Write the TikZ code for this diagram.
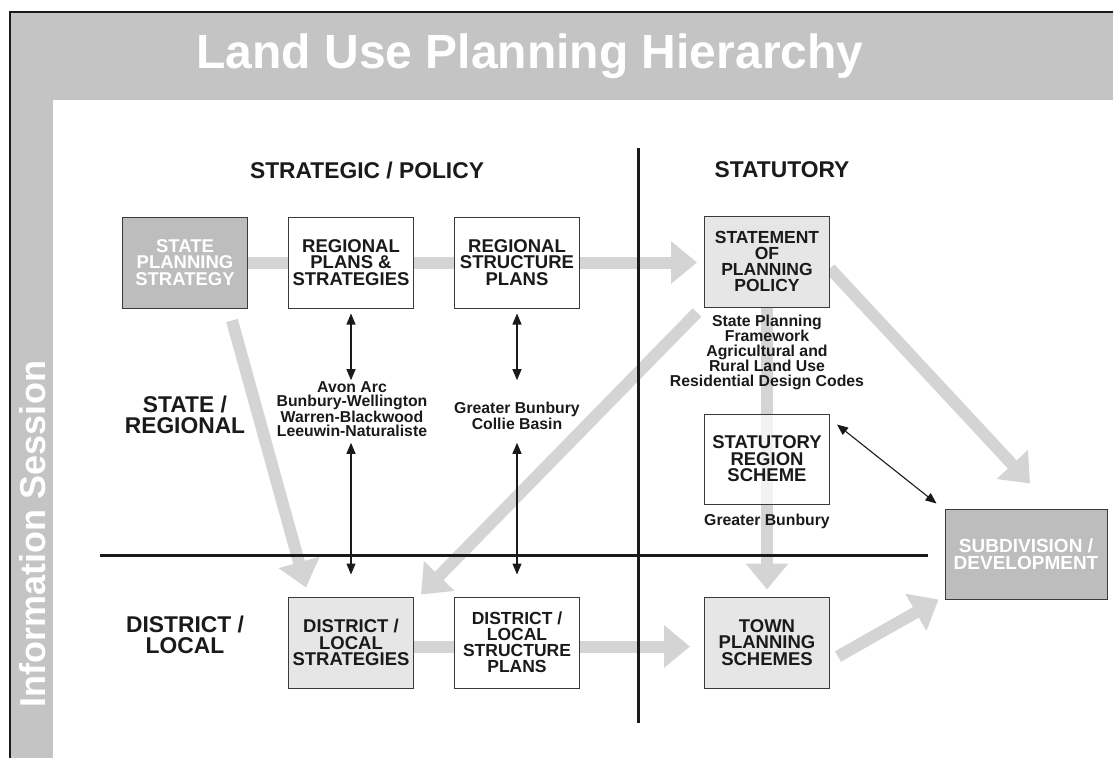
\documentclass[tikz,border=0pt]{standalone}
\usepackage{fontspec}
\setmainfont{Liberation Sans}
\usetikzlibrary{arrows.meta,calc}
\pgfdeclarelayer{bg}
\pgfdeclarelayer{arr}
\pgfsetlayers{bg,arr,main}
\definecolor{bandgray}{HTML}{C4C4C4}
\definecolor{darkfill}{HTML}{BDBDBD}
\definecolor{lightfill}{HTML}{E6E6E6}
\definecolor{arrgray}{HTML}{D4D4D4}
\definecolor{edgecol}{HTML}{3A3A3A}
\definecolor{ink}{HTML}{1A1A1A}
\begin{document}
\begin{tikzpicture}[x=1pt,y=-1pt,
  box/.style={draw=edgecol, line width=1pt, minimum width=125pt, minimum height=91pt, inner sep=0pt, align=center, font=\fontsize{18.5}{16.5}\selectfont\bfseries, text=ink},
  darkbox/.style={box, fill=darkfill, text=white},
  lightbox/.style={box, fill=lightfill},
  whitebox/.style={box, fill=white},
  fourline/.style={font=\fontsize{17.5}{16}\selectfont\bfseries},
  heading/.style={font=\fontsize{22.8}{21}\selectfont\bfseries, text=ink, align=center, inner sep=0pt},
  sublabel/.style={font=\fontsize{15.8}{14.2}\selectfont\bfseries, text=ink, align=center, inner sep=0pt},
  bigarr/.style={draw=arrgray, line width=12pt, -{Triangle[length=26pt,width=41pt]}},
  thinarr/.style={draw=ink, line width=1.1pt, {Triangle[length=11pt,width=9pt]}-{Triangle[length=11pt,width=9pt]}},
  rulestyle/.style={draw=ink, line width=3pt}
]
\useasboundingbox (0,0) rectangle (1113,758);
\begin{pgfonlayer}{bg}
\fill[white] (0,0) rectangle (1113,758);
\fill[bandgray] (10,12) rectangle (1113,100);
\fill[bandgray] (10,100) rectangle (53,758);
\draw[ink, line width=2pt] (10,758) -- (10,12) -- (1113,12);
\end{pgfonlayer}

\node[font=\fontsize{48}{48}\selectfont\bfseries, text=white, anchor=base, inner sep=0pt] (title) at (530,68) {Land Use Planning Hierarchy};
\node[rotate=90, font=\fontsize{36}{36}\selectfont\bfseries, text=white, anchor=base, inner sep=0pt] (info) at (45,534) {Information Session};

\coordinate (vtop) at (638,148);
\coordinate (vbot) at (638,723);
\coordinate (hleft) at (100,555);
\coordinate (hright) at (928,555);
\draw[rulestyle] (vtop) -- (vbot);
\draw[rulestyle] (hleft) -- (hright);

\node[heading] (hstrat) at (367,170) {STRATEGIC / POLICY};
\node[heading] (hstat) at (782,170) {STATUTORY};
\node[heading] (hsr) at (185,415) {STATE /\\REGIONAL};
\node[heading] (hdl) at (185,635) {DISTRICT /\\LOCAL};

\node[darkbox, font=\fontsize{18.5}{16.8}\selectfont\bfseries] (sps) at (185,262.5) {STATE\\PLANNING\\STRATEGY};
\node[whitebox] (rps) at (351,262.5) {REGIONAL\\PLANS \&\\STRATEGIES};
\node[whitebox] (rsp) at (517,262.5) {REGIONAL\\STRUCTURE\\PLANS};
\node[lightbox, fourline] (spp) at (767,261.5) {STATEMENT\\OF\\PLANNING\\POLICY};
\node[whitebox, fill opacity=0.7, text opacity=1, draw opacity=1, minimum height=90pt] (srs) at (767,459) {STATUTORY\\REGION\\SCHEME};
\node[darkbox, minimum width=162pt, minimum height=90pt, font=\fontsize{19}{17.2}\selectfont\bfseries] (sub) at (1026,554) {SUBDIVISION /\\DEVELOPMENT};
\node[lightbox] (dls) at (351,642.5) {DISTRICT /\\LOCAL\\STRATEGIES};
\node[whitebox, fourline] (dlsp) at (517,642.5) {DISTRICT /\\LOCAL\\STRUCTURE\\PLANS};
\node[lightbox] (tps) at (767,642.5) {TOWN\\PLANNING\\SCHEMES};

\node[sublabel] (avon) at (352,409) {Avon Arc\\Bunbury-Wellington\\Warren-Blackwood\\Leeuwin-Naturaliste};
\node[sublabel] (gbc) at (517,416) {Greater Bunbury\\Collie Basin};
\node[sublabel] (sppt) at (767,352) {State Planning\\Framework\\Agricultural and\\Rural Land Use\\Residential Design Codes};
\node[sublabel] (gb) at (767,521) {Greater Bunbury};

\draw[thinarr] ($(rps.south)+(0,5)$) -- ($(rps.south |- avon.north)+(0,-1)$);
\draw[thinarr] ($(rps.south |- avon.south)+(0,6)$) -- ($(dls.north)+(0,-22)$);
\draw[thinarr] ($(rsp.south)+(0,5)$) -- ($(rsp.south |- avon.north)+(0,-1)$);
\draw[thinarr] ($(rsp.south |- avon.south)+(0,6)$) -- ($(dlsp.north)+(0,-22)$);
\draw[thinarr] ($(srs.north east)+(7,11)$) -- ($(sub.north west)+(-8,-5)$);

\begin{pgfonlayer}{arr}
\draw[bigarr] (sps.center) -- ($(sps.center -| spp.west)+(-7,0)$);
\draw[bigarr] ($(sps.south)+(47,12)$) -- ($(dls.north west)+(18,-9)$);
\draw[bigarr] ($(spp.south west)+(-7,5)$) -- ($(dls.north east)+(7,-2)$);
\draw[bigarr] (spp.center) -- ($(tps.north)+(0,-7)$);
\draw[bigarr] ($(spp.east)+(0,7)$) -- ($(sub.north)+(4,-25)$);
\draw[bigarr] ($(tps.east)+(8,14)$) -- ($(sub.south west)+(-6,0)$);
\draw[bigarr] ($(dls.east)+(0,4)$) -- ($(tps.west)+(-14,4)$);
\end{pgfonlayer}
\end{tikzpicture}
\end{document}
